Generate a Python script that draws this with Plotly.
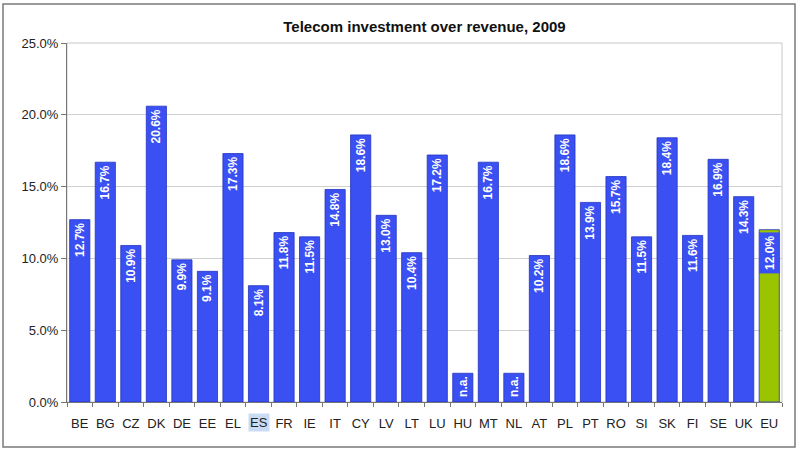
import plotly.graph_objects as go

# -- data
countries = ['BE', 'BG', 'CZ', 'DK', 'DE', 'EE', 'EL', 'ES', 'FR', 'IE', 'IT', 'CY', 'LV', 'LT',
             'LU', 'HU', 'MT', 'NL', 'AT', 'PL', 'PT', 'RO', 'SI', 'SK', 'FI', 'SE', 'UK', 'EU']
invest_share = [12.7, 16.7, 10.9, 20.6, 9.9, 9.1, 17.3, 8.1, 11.8, 11.5, 14.8, 18.6, 13.0, 10.4,
                17.2, None, 16.7, None, 10.2, 18.6, 13.9, 15.7, 11.5, 18.4, 11.6, 16.9, 14.3, 12.0]
na_bar_height = 2.0   # placeholder height for countries without data
highlight_tick = 'ES'
y_ticks = [0, 5, 10, 15, 20, 25]

blue = '#3a50f2'
green = '#9bc400'
FONT = 'Liberation Sans, Arial'

heights = [v if v is not None else na_bar_height for v in invest_share]
labels = ['%.1f%%' % v if v is not None else 'n.a.' for v in invest_share]
colors = [green if c == 'EU' else blue for c in countries]
bar_text = ['' if c == 'EU' else t for c, t in zip(countries, labels)]

fig = go.Figure()
fig.add_trace(go.Bar(
    x=countries, y=heights, marker_color=colors,
    marker_line_color='#2233c0', marker_line_width=0.8,
    text=bar_text, textposition='inside', insidetextanchor='end', textangle=-90,
    textfont=dict(family=FONT, size=12, color='white', weight='bold'),
    constraintext='none', hoverinfo='skip'))

# EU label sits in a blue box on top of the green bar
eu_i = countries.index('EU')
fig.add_annotation(x='EU', y=heights[eu_i], yanchor='top', yshift=-2, text='<b>' + labels[eu_i] + '</b>',
                   textangle=-90, showarrow=False, bgcolor=blue, borderpad=3,
                   font=dict(family=FONT, size=12, color='white'))

# highlighted tick label
fig.add_annotation(x=highlight_tick, y=0, yref='y', yanchor='top', yshift=-11, text=highlight_tick,
                   showarrow=False, bgcolor='#c9dcf3', borderpad=1,
                   font=dict(family=FONT, size=13, color='#222'))

# outer frame
L, R, T, B = 67, 18, 43, 50
W, H = 800, 452
pw, ph = W - L - R, H - T - B
fig.add_shape(type='rect', xref='paper', yref='paper',
              x0=(3 - L) / pw, x1=(795 - L) / pw, y0=(H - B - 447) / ph, y1=(H - B - 4) / ph,
              line=dict(color='#7a7a7a', width=1.5), fillcolor='rgba(0,0,0,0)')

fig.update_layout(
    width=W, height=H, margin=dict(l=L, r=R, t=T, b=B),
    paper_bgcolor='white', plot_bgcolor='white',
    bargap=0.21, showlegend=False,
    font=dict(family=FONT, size=13, color='#222'),
    title=dict(text='<b>Telecom investment over revenue, 2009</b>', x=0.5, xref='paper', xanchor='center',
               y=1 - 27 / H, yref='container', yanchor='middle', font=dict(size=15, color='#111')),
)
fig.update_xaxes(tickvals=countries, ticktext=['' if c == highlight_tick else c for c in countries],
                 tickangle=0, ticks='outside', tickson='boundaries', ticklen=4, tickcolor='#777',
                 ticklabelstandoff=9,
                 showline=True, linecolor='#777', linewidth=1, mirror=False)
fig.update_yaxes(range=[0, 25], tickvals=y_ticks, ticktext=['%.1f%%' % t for t in y_ticks],
                 ticks='outside', ticklen=5, tickcolor='#777',
                 showline=True, linecolor='#777', linewidth=1,
                 showgrid=True, gridcolor='#d0d0d0', zeroline=False)
# light right/top border of the plot area
fig.add_shape(type='rect', xref='paper', yref='paper', x0=0, x1=1, y0=0, y1=1,
              line=dict(color='#c8c8c8', width=1), layer='below')

fig.write_html("out.html", config={'displayModeBar': False},
               post_script="document.body.style.margin='0';")
